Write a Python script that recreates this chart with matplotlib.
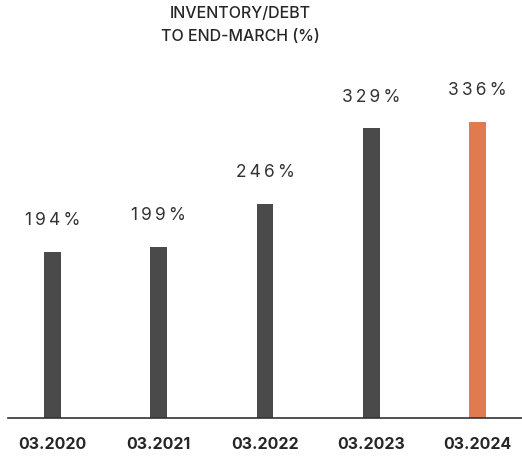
import matplotlib.pyplot as plt

periods = ["03.2020", "03.2021", "03.2022", "03.2023", "03.2024"]
ratios = [194, 199, 246, 329, 336]
labels = ["194%", "199%", "246%", "329%", "336%"]
colors = ["#4a4a4a", "#4a4a4a", "#4a4a4a", "#4a4a4a", "#e07a4f"]

plt.rcParams['font.family'] = ['Inter', 'DejaVu Sans']

fig = plt.figure(figsize=(5.22, 4.57), dpi=100)
ax = fig.add_axes([8 / 522, 39 / 457, 1 - 8 / 522, 358 / 457])

x = range(len(periods))
bars = ax.bar(x, ratios, width=0.16, color=colors)

# spaced-out value labels
for b, lab in zip(bars, labels):
    ax.text(b.get_x() + b.get_width() / 2, b.get_height() + 25,
            "\u2009".join(lab),
            ha='center', va='bottom', fontsize=12.5, color='#333333')

ax.set_xlim(-0.42, 4.42)
ax.set_ylim(12, 404)
ax.set_xticks(list(x))
ax.set_xticklabels(periods, fontsize=11.5, fontweight='bold', color='#262626')
ax.tick_params(axis='x', length=0, pad=14)
ax.set_yticks([])
for s in ['top', 'right', 'left']:
    ax.spines[s].set_visible(False)
ax.spines['bottom'].set_color('#333333')
ax.spines['bottom'].set_linewidth(1.2)

fig.text(240 / 522, 1 - 25 / 457, "INVENTORY/DEBT\nTO END-MARCH (%)",
         ha='center', va='center', fontsize=11.5, color='#262626',
         fontweight='medium', linespacing=1.6)

fig.savefig("out.png", dpi=100)
